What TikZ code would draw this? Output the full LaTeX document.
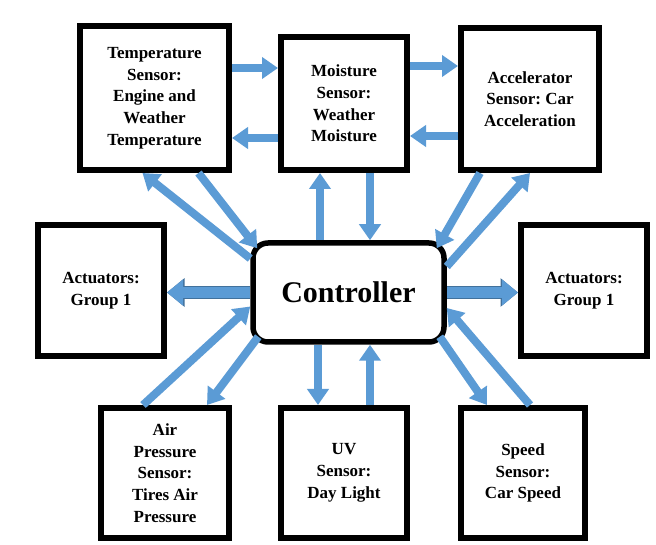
\documentclass[tikz,border=0pt]{standalone}
\usepackage{fontspec}
\setmainfont{Liberation Serif}
\usepackage{xcolor}
\usepackage{tikz}
\usetikzlibrary{arrows.meta, positioning, calc}
\definecolor{flowblue}{HTML}{5B9BD5}
\definecolor{flowdark}{HTML}{41719C}
\frenchspacing
\tikzset{
	box/.style={rectangle, draw, line width=6pt, align=center, font=\fontsize{17}{21.7}\selectfont\bfseries},
	ctrlbox/.style={rectangle, draw, line width=5.5pt, rounded corners=15pt, minimum width=191pt, minimum height=99pt, font=\fontsize{30}{36}\selectfont\bfseries},
	flow/.style={draw=flowblue, line width=8pt, -{Triangle[length=16pt, width=21pt]}},
	bigflow/.style={draw=flowblue, line width=11pt, -{Triangle[length=16pt, width=25pt]},
		preaction={draw=flowdark, line width=12.5pt, -{Triangle[length=17.5pt, width=27.5pt]}}}
}

\begin{document}
\begin{tikzpicture}[x=1pt, y=1pt]
	\useasboundingbox[fill=white] (0,0) rectangle (656,544);
	
	% Node for the controller in the middle
	\node[ctrlbox] (ctrl) at (348.5,251.5) {Controller};
	
	% Sensor nodes on the top row
	\node[box, minimum width=149pt, minimum height=144pt] (temp) at (154.5,446) {Temperature\\Sensor:\\Engine and\\Weather\\Temperature};
	\node[box, minimum width=126pt, minimum height=133pt] (moist) at (344,440.5) {Moisture\\Sensor:\\Weather\\Moisture};
	\node[box, minimum width=138pt, minimum height=142pt] (accel) at (530,445) {Accelerator\\Sensor: Car\\Acceleration};
	
	% Actuator nodes left and right
	\node[box, minimum width=126pt, minimum height=131pt] (actl) at (101,253.5) {Actuators:\\Group 1};
	\node[box, minimum width=126pt, minimum height=131pt] (actr) at (584,253.5) {Actuators:\\Group 1};
	
	% Sensor nodes on the bottom row
	\node[box, minimum width=128pt, minimum height=130pt] (air) at (165,71) {Air\\Pressure\\Sensor:\\Tires Air\\Pressure};
	\node[box, minimum width=126pt, minimum height=130pt] (uv) at (344,71) {UV\\Sensor:\\Day Light};
	\node[box, minimum width=124pt, minimum height=130pt] (speed) at (523,71) {Speed\\Sensor:\\Car Speed};
	
	% Links between the top sensors
	\path[flow] ([yshift=30pt]temp.east) -- ([yshift=30pt]temp.east -| moist.west);
	\path[flow] ([yshift=-34.5pt]moist.west) -- ([yshift=-34.5pt]moist.west -| temp.east);
	\path[flow] ([yshift=37.5pt]moist.east) -- ([yshift=37.5pt]moist.east -| accel.west);
	\path[flow] ([yshift=-37pt]accel.west) -- ([yshift=-37pt]accel.west -| moist.east);
	
	% Links between controller and top sensors
	\path[flow] ([yshift=34pt]ctrl.west) -- ([xshift=-12pt]temp.south);
	\path[flow] ([xshift=44pt]temp.south) -- ([xshift=7pt, yshift=-8pt]ctrl.north west);
	\path[flow] ([xshift=-28.5pt]ctrl.north) -- ([xshift=-28.5pt]ctrl.north |- moist.south);
	\path[flow] ([xshift=21.5pt]ctrl.north |- moist.south) -- ([xshift=21.5pt]ctrl.north);
	\path[flow] ([xshift=-50pt]accel.south) -- ([xshift=-10pt, yshift=-8pt]ctrl.north east);
	\path[flow] ([yshift=26pt]ctrl.east) -- (accel.south);
	
	% Links to the actuators
	\path[bigflow] (ctrl.west) -- (ctrl.west -| actl.east);
	\path[bigflow] (ctrl.east) -- (ctrl.east -| actr.west);
	
	% Links between controller and bottom sensors
	\path[flow] ([xshift=-22pt]air.north) -- ([yshift=-14pt]ctrl.west);
	\path[flow] ([xshift=8pt, yshift=8pt]ctrl.south west) -- ([xshift=42pt]air.north);
	\path[flow] ([xshift=-30.5pt]ctrl.south) -- ([xshift=-30.5pt]ctrl.south |- uv.north);
	\path[flow] ([xshift=21.5pt]ctrl.south |- uv.north) -- ([xshift=21.5pt]ctrl.south);
	\path[flow] ([xshift=-7pt, yshift=8pt]ctrl.south east) -- ([xshift=-36pt]speed.north);
	\path[flow] ([xshift=7pt]speed.north) -- ([yshift=-15.5pt]ctrl.east);
\end{tikzpicture}
\end{document}
